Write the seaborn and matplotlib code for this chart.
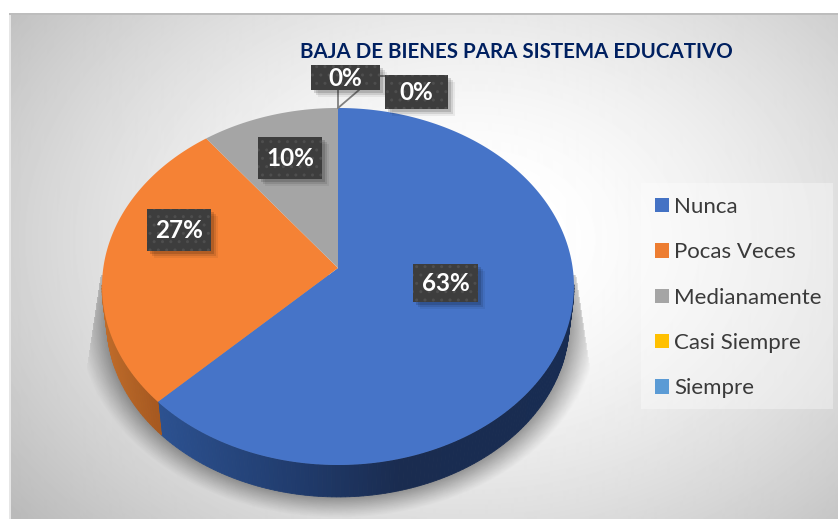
import numpy as np
import matplotlib
matplotlib.use("Agg")
import matplotlib.pyplot as plt
from matplotlib.patches import Patch, Rectangle
import seaborn as sns

# Chart data
categories = ["Nunca", "Pocas Veces", "Medianamente", "Casi Siempre", "Siempre"]
values = [62.6, 27.0, 10.4, 0, 0]
legend_colors = ["#4472c4", "#ed7d31", "#a5a5a5", "#ffc000", "#5b9bd5"]
top_colors = ["#4674c8", "#f58235", "#a5a5a5", "#ffc000", "#5b9bd5"]
title = "BAJA DE BIENES PARA SISTEMA EDUCATIVO"

sns.set_theme(style="white")
plt.rcParams["font.family"] = ["Lato", "DejaVu Sans"]
palette = sns.color_palette(top_colors)

W, H = 838, 519
fig = plt.figure(figsize=(W / 100, H / 100), dpi=100, facecolor="white")
ax = fig.add_axes([0, 0, 1, 1])

# the pie gives the wedge angles, the tilted shape is drawn from them below
wedges, _ = ax.pie(values, startangle=90, counterclock=False, colors=palette)
angles = [(w.theta1, w.theta2) for w in wedges]
for w in wedges:
    w.remove()

ax.set_aspect("auto")
ax.set_xlim(0, W)
ax.set_ylim(H, 0)
ax.axis("off")

# panel background
xx, yy = np.meshgrid(np.arange(9, W) + 0.5, np.arange(13, H) + 0.5)
d = np.sqrt(((xx - 470) / 470) ** 2 + ((yy - 240) / 345) ** 2)
bg = 258 - 50 * np.clip(d, 0, 1.25) ** 1.6
ax.imshow(np.clip(bg, 0, 255), extent=(9, W, H, 13), cmap="gray", vmin=0, vmax=255,
          aspect="auto", zorder=0, interpolation="bilinear")
ax.add_patch(Rectangle((9, 13), 2, H - 13, fc="#e6e6e6", ec="none", zorder=1))
ax.add_patch(Rectangle((9, 13), W - 9, 1.5, fc="#bdbdbd", ec="none", zorder=1))

# soft shadow under the pie
e = np.sqrt(((xx - 338) / 232) ** 2 + ((yy - 322) / 175) ** 2)
fade = np.clip((1.12 - e) / 0.12, 0, 1) ** 1.1
left_x = 100 - (yy - 280) * 0.15
right_x = 576 + (yy - 280) * 0.15
cut = (xx > left_x) & (xx < right_x) & (yy > 275)
shadow = np.zeros(xx.shape + (4,))
shadow[..., 3] = 0.36 * fade * cut
ax.imshow(shadow, extent=(9, W, H, 13), aspect="auto", zorder=2, interpolation="bilinear")
ax.set_xlim(0, W)
ax.set_ylim(H, 0)

# tilted pie, the apex sits above the middle of the ellipse
cx, cy = 338, 268
A, B, k = 176.6, 234.7, 0.1036


def rim(theta):
    t = np.radians(theta)
    s = 1 + k * np.sin(t)
    return cx + B * np.cos(t) / s, cy - A * np.sin(t) / s


def lower(x, y):
    # lower edge of the side is a slightly smaller ellipse
    return cx + (x - cx) * 0.98, 322 + (y - 286.5) * 0.98


side_x = [[160, 300, 400, 574], [102, 160], [100, 340]]
side_c = [[(0x2c, 0x51, 0x90), (0x20, 0x3b, 0x6c), (0x1a, 0x2c, 0x50), (0x18, 0x2c, 0x52)],
          [(0xc0, 0x6c, 0x2a), (0xa5, 0x58, 0x20)],
          [(0x70, 0x70, 0x70), (0x70, 0x70, 0x70)]]

for i, (t1, t2) in enumerate(angles[:3]):
    steps = np.arange(t1, t2, 1.0)
    steps = np.append(steps, t2)
    for a, b in zip(steps[:-1], steps[1:]):
        # only the front part of the side shows
        if np.sin(np.radians((a + b) / 2)) > -0.1:
            continue
        xa, ya = rim(a)
        xb, yb = rim(b)
        xc, yc = lower(xb, yb)
        xd, yd = lower(xa, ya)
        mid = (xa + xb) / 2
        col = [np.interp(mid, side_x[i], [c[n] for c in side_c[i]]) / 255 for n in range(3)]
        ax.fill([xa, xb, xc, xd], [ya, yb, yc, yd], color=col, lw=0.6, zorder=3)

for i, (t1, t2) in enumerate(angles):
    if t2 - t1 <= 0:
        continue
    px, py = rim(np.linspace(t1, t2, 200))
    ax.fill(np.r_[cx, px], np.r_[cy, py], color=palette[i], lw=0, zorder=4)

# leader lines of the two empty categories
ax.plot([338, 338], [108, 90], color="#7f7f7f", lw=1.3, zorder=5)
ax.plot([338, 359], [108, 90], color="#7f7f7f", lw=1.3, zorder=5)
ax.plot([380, 385], [76, 76], color="#7f7f7f", lw=1.3, zorder=5)

# data labels
boxes = [(413, 264, 65, 38), (147, 209, 64, 42), (258, 137, 64, 42), (311, 65, 69, 25), (385, 75, 63, 34)]
for v, (x0, y0, w, h) in zip(values, boxes):
    for off, al in [(7, 0.06), (5, 0.1), (3, 0.14)]:
        ax.add_patch(Rectangle((x0 + off, y0 + off), w, h, fc="black", ec="none", alpha=al, zorder=6))
    ax.add_patch(Rectangle((x0, y0), w, h, fc="#3d3d3d", ec="none", zorder=7))
    ax.add_patch(Rectangle((x0, y0), w, h, fc="none", ec="#4e4e4e", lw=0, hatch="..", zorder=7))
    ax.text(x0 + w / 2, y0 + h / 2 + 0.5, f"{v:.0f}%", color="white", fontsize=17.5, fontweight="bold",
            ha="center", va="center", zorder=8)

ax.text(516, 52, title, color="#002060", fontsize=14.8, fontweight="bold",
        ha="center", va="center", zorder=8)

# legend
ax.add_patch(Rectangle((641, 183), 192, 226, fc="white", ec="none", alpha=0.35, zorder=5))
handles = [Patch(fc=c, ec="none", label=n) for c, n in zip(legend_colors, categories)]
leg = ax.legend(handles=handles, loc="upper left", bbox_to_anchor=(654.5, 197), bbox_transform=ax.transData,
                frameon=False, fontsize=16, labelcolor="#3a3a3a", labelspacing=1.14,
                handlelength=0.63, handleheight=0.63, handletextpad=0.25, borderpad=0, borderaxespad=0)
leg.set_zorder(9)

fig.savefig("out.png", dpi=100)
